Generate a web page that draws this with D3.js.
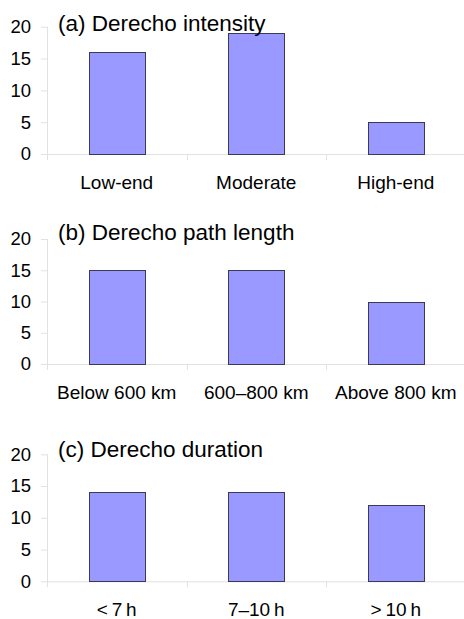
<!DOCTYPE html>
<html>
<head>
<meta charset="utf-8">
<script src="https://cdn.jsdelivr.net/npm/d3@7"></script>
<style>
  html, body { margin: 0; padding: 0; background: #fff; }
  svg { display: block; }
  text { font-family: "Liberation Sans", Arial, sans-serif; fill: #000; }
</style>
</head>
<body>
<script>
// ---- data ----
const titles = ["(a) Derecho intensity", "(b) Derecho path length", "(c) Derecho duration"];
const categoriesA = ["Low-end", "Moderate", "High-end"];
const categoriesB = ["Below 600 km", "600\u2013800 km", "Above 800 km"];
const categoriesC = ["<\u20097\u2009h", "7\u201310\u2009h", ">\u200910\u2009h"];
const valuesA = [16, 19, 5];
const valuesB = [15, 15, 10];
const valuesC = [14, 14, 12];
const yTicks = [0, 5, 10, 15, 20];

const panels = [
  { title: titles[0], cats: categoriesA, vals: valuesA, top: 26.7, bottom: 154, titleY: 30.5 },
  { title: titles[1], cats: categoriesB, vals: valuesB, top: 239, bottom: 364, titleY: 240 },
  { title: titles[2], cats: categoriesC, vals: valuesC, top: 454.3, bottom: 581.3, titleY: 456.5 }
];

const W = 464, H = 619;
const xLeft = 47, xRight = 465.5;
const axisColor = "#e2e2e2";

const svg = d3.select("body").append("svg").attr("width", W).attr("height", H);

panels.forEach(p => {
  const g = svg.append("g");
  const x = d3.scaleBand().domain(p.cats).range([xLeft, xRight]).padding(0);
  const y = d3.scaleLinear().domain([0, 20]).range([p.bottom, p.top]);
  const bw = x.bandwidth() * 0.4;

  // y axis
  const yAxis = d3.axisLeft(y).tickValues(yTicks).tickSize(6).tickPadding(10);
  const ya = g.append("g").attr("transform", `translate(${xLeft},0)`).call(yAxis);
  ya.select(".domain").attr("stroke", axisColor).attr("d", `M0.5,${p.top}V${p.bottom + 6}`);
  ya.selectAll(".tick line").attr("stroke", axisColor);
  ya.selectAll(".tick text").attr("font-size", 18.5).attr("fill", "#000")
    .attr("font-family", "Liberation Sans, Arial, sans-serif");

  // x axis line
  g.append("line").attr("x1", xLeft).attr("x2", W).attr("y1", p.bottom + 0.5).attr("y2", p.bottom + 0.5)
    .attr("stroke", axisColor);
  // category separator ticks
  const bounds = p.cats.map(c => x(c)).slice(1);
  g.selectAll(".sep").data(bounds).join("line")
    .attr("x1", d => Math.round(d) + 0.5).attr("x2", d => Math.round(d) + 0.5)
    .attr("y1", p.bottom).attr("y2", p.bottom + 6).attr("stroke", axisColor);

  // bars
  g.selectAll(".bar").data(p.vals).join("rect")
    .attr("x", (d, i) => Math.round(x(p.cats[i]) + x.bandwidth() / 2 - bw / 2) + 0.5)
    .attr("width", Math.round(bw))
    .attr("y", d => Math.round(y(d)) + 0.5)
    .attr("height", d => Math.round(y(0)) - Math.round(y(d)))
    .attr("fill", "#9999ff").attr("stroke", "#3a3a55").attr("stroke-width", 1);

  // category labels
  g.selectAll(".cat").data(p.cats).join("text")
    .attr("x", d => x(d) + x.bandwidth() / 2)
    .attr("y", p.bottom + 35)
    .attr("text-anchor", "middle")
    .attr("font-size", 19)
    .text(d => d);

  // title
  g.append("text").attr("x", 58).attr("y", p.titleY).attr("font-size", 22.5).text(p.title);
});
</script>
</body>
</html>
